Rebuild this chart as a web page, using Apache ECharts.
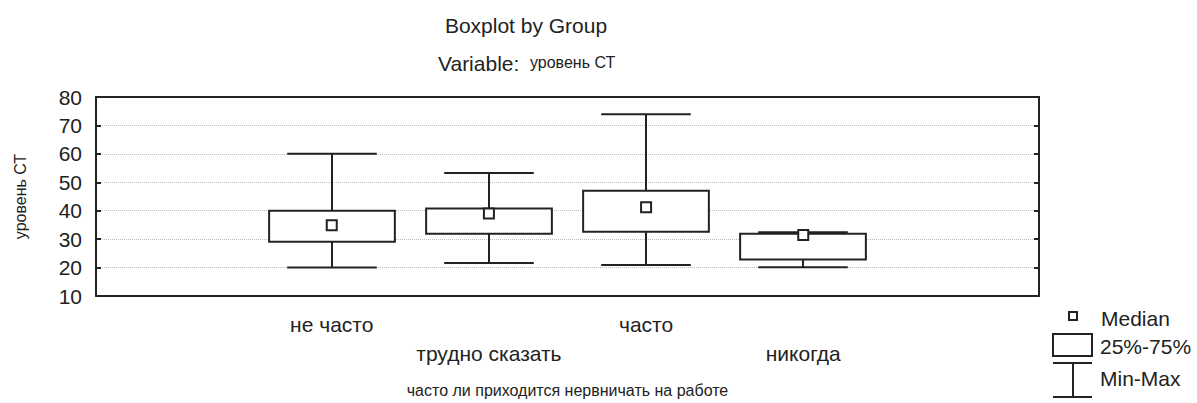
<!DOCTYPE html>
<html><head><meta charset="utf-8">
<script src="https://cdn.jsdelivr.net/npm/echarts@6/dist/echarts.min.js"></script>
<style>html,body{margin:0;padding:0;background:#fff}#c{width:1197px;height:403px}</style>
</head><body><div id="c"></div>
<script>
// ---- data ----
const categories = ['', 'не часто', 'трудно сказать', 'часто', 'никогда', ''];
const groupIndex = [1, 2, 3, 4];
const minValues    = [20.0, 21.6, 20.9, 20.1];
const q1Values     = [29.1, 31.9, 32.6, 22.8];
const medianValues = [34.9, 39.0, 41.2, 31.5];
const q3Values     = [40.0, 40.8, 47.0, 31.9];
const maxValues    = [60.0, 53.3, 73.9, 32.4];
const yMin = 10, yMax = 80, yStep = 10;
const titleText = 'Boxplot by Group';
const subtitlePrefix = 'Variable: ';
const variableName = 'уровень СТ';
const xAxisName = 'часто ли приходится нервничать на работе';
const legendLabels = ['Median', '25%-75%', 'Min-Max'];

const FONT = '"Liberation Sans", Arial, sans-serif';
const INK = '#222';

const boxData = groupIndex.map((g, i) => [g, minValues[i], q1Values[i], medianValues[i], q3Values[i], maxValues[i]]);
const medianData = groupIndex.map((g, i) => [g, medianValues[i]]);

function renderBox(params, api) {
  const x = api.value(0);
  const band = api.size([1, 0])[0];
  const pMin = api.coord([x, api.value(1)]);
  const pQ1 = api.coord([x, api.value(2)]);
  const pQ3 = api.coord([x, api.value(4)]);
  const pMax = api.coord([x, api.value(5)]);
  const cx = Math.round(pMin[0]);
  const boxW = band * 0.80, capW = band * 0.57;
  const ls = { stroke: INK, lineWidth: 2, fill: null };
  return {
    type: 'group',
    children: [
      { type: 'line', shape: { x1: cx, y1: pMax[1], x2: cx, y2: pQ3[1] }, style: ls },
      { type: 'line', shape: { x1: cx - capW / 2, y1: pMax[1], x2: cx + capW / 2, y2: pMax[1] }, style: ls },
      { type: 'line', shape: { x1: cx, y1: pQ1[1], x2: cx, y2: pMin[1] }, style: ls },
      { type: 'line', shape: { x1: cx - capW / 2, y1: pMin[1], x2: cx + capW / 2, y2: pMin[1] }, style: ls },
      { type: 'rect', shape: { x: cx - boxW / 2, y: pQ3[1], width: boxW, height: pQ1[1] - pQ3[1] },
        style: { stroke: INK, lineWidth: 2, fill: '#fff' } }
    ]
  };
}

const tickStyle = { color: INK, width: 2 };
const chart = echarts.init(document.getElementById('c'), null, { renderer: 'svg' });
chart.setOption({
  animation: false,
  backgroundColor: '#fff',
  textStyle: { fontFamily: FONT },
  grid: { left: 96, right: 158, top: 97, bottom: 102, containLabel: false },
  xAxis: [
    {
      type: 'category', data: categories, position: 'bottom', boundaryGap: true,
      axisLine: { onZero: false, lineStyle: tickStyle },
      axisTick: { alignWithLabel: true, inside: true, length: 5, lineStyle: tickStyle },
      axisLabel: {
        interval: 0, fontSize: 21, color: INK, margin: 14, lineHeight: 29, fontFamily: FONT,
        formatter: (v, i) => (v && i % 2 === 0) ? '\n' + v : v
      },
      splitLine: { show: false },
      name: xAxisName, nameLocation: 'middle', nameGap: 86,
      nameTextStyle: { fontSize: 16, color: INK, fontFamily: FONT }
    },
    {
      type: 'category', data: categories, position: 'top', boundaryGap: true,
      axisLine: { onZero: false, lineStyle: tickStyle },
      axisTick: { alignWithLabel: true, inside: true, length: 5, lineStyle: tickStyle },
      axisLabel: { show: false }, splitLine: { show: false }
    }
  ],
  yAxis: [
    {
      type: 'value', min: yMin, max: yMax, interval: yStep, position: 'left',
      axisLine: { show: true, onZero: false, lineStyle: tickStyle },
      axisTick: { show: true, inside: true, length: 5, lineStyle: tickStyle },
      axisLabel: { fontSize: 21, color: INK, margin: 14, fontFamily: FONT },
      splitLine: { show: true, lineStyle: { type: 'dotted', color: '#bdbdbd', width: 1 } },
      name: variableName, nameLocation: 'middle', nameGap: 68, nameRotate: 90,
      nameTextStyle: { fontSize: 16, color: INK, fontFamily: FONT }
    },
    {
      type: 'value', min: yMin, max: yMax, interval: yStep, position: 'right',
      axisLine: { show: true, onZero: false, lineStyle: tickStyle },
      axisTick: { show: true, inside: true, length: 5, lineStyle: tickStyle },
      axisLabel: { show: false }, splitLine: { show: false }
    }
  ],
  series: [
    {
      name: legendLabels[1], type: 'custom', xAxisIndex: 0, yAxisIndex: 0,
      renderItem: renderBox, data: boxData, z: 3,
      encode: { x: 0, y: [1, 2, 3, 4, 5] }
    },
    {
      name: legendLabels[0], type: 'scatter', xAxisIndex: 0, yAxisIndex: 0,
      data: medianData, symbol: 'rect', symbolSize: 10, z: 5,
      itemStyle: { color: '#fff', borderColor: INK, borderWidth: 2, opacity: 1 }
    }
  ],
  graphic: [
    { type: 'text', x: 526, y: 25, style: { text: titleText, font: '21px ' + FONT, fill: INK, align: 'center', verticalAlign: 'middle' } },
    { type: 'text', x: 438, y: 63, style: { text: subtitlePrefix, font: '21px ' + FONT, fill: INK, align: 'left', verticalAlign: 'middle' } },
    { type: 'text', x: 530, y: 62, style: { text: variableName, font: '16px ' + FONT, fill: INK, align: 'left', verticalAlign: 'middle' } },
    // legend
    { type: 'rect', shape: { x: 1069, y: 312, width: 8, height: 8 }, style: { stroke: INK, lineWidth: 2, fill: '#fff' } },
    { type: 'text', x: 1101, y: 318, style: { text: legendLabels[0], font: '21px ' + FONT, fill: INK, align: 'left', verticalAlign: 'middle' } },
    { type: 'rect', shape: { x: 1053, y: 334, width: 39, height: 22 }, style: { stroke: INK, lineWidth: 2, fill: '#fff' } },
    { type: 'text', x: 1100, y: 346, style: { text: legendLabels[1], font: '21px ' + FONT, fill: INK, align: 'left', verticalAlign: 'middle' } },
    { type: 'line', shape: { x1: 1053, y1: 363, x2: 1092, y2: 363 }, style: { stroke: INK, lineWidth: 2 } },
    { type: 'line', shape: { x1: 1073, y1: 363, x2: 1073, y2: 397 }, style: { stroke: INK, lineWidth: 2 } },
    { type: 'line', shape: { x1: 1053, y1: 397, x2: 1092, y2: 397 }, style: { stroke: INK, lineWidth: 2 } },
    { type: 'text', x: 1100, y: 378, style: { text: legendLabels[2], font: '21px ' + FONT, fill: INK, align: 'left', verticalAlign: 'middle' } }
  ]
});
</script>
</body></html>
